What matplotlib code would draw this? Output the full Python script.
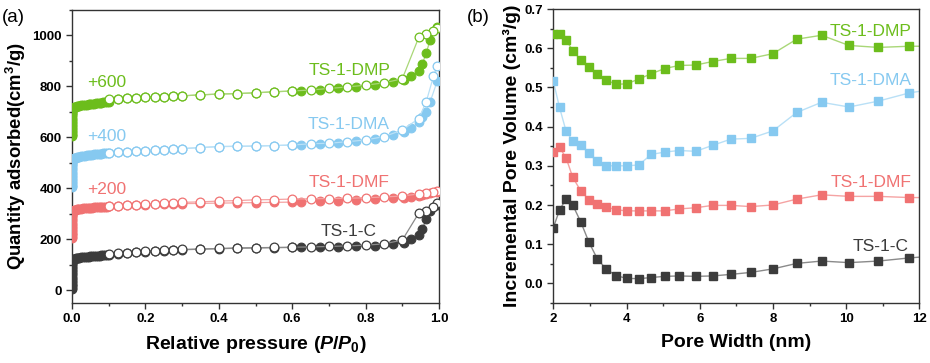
import matplotlib
matplotlib.use("Agg")
import matplotlib.pyplot as plt
from matplotlib.ticker import MultipleLocator

plt.rcParams['font.family'] = ['Liberation Sans', 'DejaVu Sans']
plt.rcParams['mathtext.fontset'] = 'custom'
plt.rcParams['mathtext.rm'] = 'Liberation Sans:bold'
plt.rcParams['mathtext.it'] = 'Liberation Sans:bold:italic'
plt.rcParams['mathtext.bf'] = 'Liberation Sans:bold'

# ---------------- Panel (a): N2 isotherms ----------------
p_ads = [1e-7, 2e-7, 3e-7, 5e-7, 7e-7, 1e-6, 1.5e-6, 2e-6, 3e-6, 5e-6, 7e-6, 1e-5,
         1.5e-5, 2e-5, 3e-5, 5e-5, 7e-5, 1e-4, 1.5e-4, 2e-4, 3e-4, 5e-4, 7e-4, 1e-3,
         2e-3, 3e-3, 5e-3, 7e-3, 0.01, 0.013, 0.016, 0.02, 0.025, 0.03, 0.035, 0.04,
         0.045, 0.05, 0.055, 0.06, 0.065, 0.07, 0.075, 0.08, 0.085, 0.09, 0.095, 0.1,
         0.125, 0.15, 0.175, 0.2, 0.225, 0.25, 0.275, 0.3, 0.35, 0.4, 0.45, 0.5,
         0.55, 0.6, 0.625, 0.675, 0.725, 0.775, 0.825,
         0.875, 0.905, 0.925, 0.945, 0.955, 0.965, 0.976, 0.995]
p_des = [0.995, 0.985, 0.965, 0.945, 0.9, 0.85, 0.8, 0.75, 0.7, 0.65, 0.6, 0.55,
         0.5, 0.45, 0.4, 0.35, 0.3, 0.275, 0.25, 0.225, 0.2, 0.175, 0.15, 0.125, 0.1]

c_ads = [5, 10, 15, 20, 26, 32, 38, 44, 50, 56, 62, 68, 74, 80, 86, 92, 98, 103,
         107, 110, 113, 115, 117, 118,
         119, 121, 123, 124, 125, 126, 127, 128, 129, 130, 131, 131, 132, 133, 134,
         134, 135, 136, 136, 137, 138, 138, 139, 140,
         144, 147, 150, 152, 154, 156, 157, 159, 161, 163, 165, 166, 167, 168,
         169, 170, 171, 173, 175,
         182, 187, 202, 216, 242, 278, 310, 333]
c_des = [343, 327, 313, 303, 197, 182, 177, 174, 172, 170, 169, 168, 167, 166, 164,
         162, 160, 158, 157, 155, 153, 150, 148, 145, 141]

dmf_ads = [205, 210, 215, 220, 226, 232, 238, 244, 250, 256, 262, 268, 274, 280, 286,
           291, 295, 298, 301, 303, 305, 307, 308, 309,
           311, 312, 314, 315, 316, 317, 318, 319, 320, 321, 322, 322, 323, 323, 324,
           325, 325, 326, 326, 327, 327, 328, 328, 329,
           331, 333, 335, 336, 337, 338, 339, 340, 341, 342, 343, 344, 345, 346,
           348, 350, 352, 355, 357,
           361, 364, 367, 370, 373, 376, 380, 386]
dmf_des = [391, 387, 383, 378, 370, 366, 363, 361, 360, 359, 358, 356, 355, 352, 350,
           347, 345, 343, 341, 339, 337, 335, 333, 331, 329]

dma_ads = [405, 410, 415, 420, 426, 432, 438, 444, 450, 456, 462, 468, 474, 480, 486,
           491, 496, 500, 504, 507, 509, 511, 512, 513,
           515, 517, 519, 520, 521, 522, 523, 525, 526, 527, 528, 529, 530, 531, 532,
           533, 534, 535, 535, 536, 537, 538, 538, 539,
           542, 544, 546, 548, 550, 552, 554, 556, 560, 564, 565, 566, 568, 570,
           572, 575, 579, 586, 595,
           609, 620, 636, 660, 680, 700, 740, 820]
dma_des = [879, 840, 739, 674, 629, 603, 590, 583, 577, 575, 570, 568, 566, 565, 564,
           560, 556, 554, 552, 550, 548, 546, 544, 542, 540]

dmp_ads = [605, 610, 615, 620, 626, 632, 638, 644, 650, 656, 662, 668, 674, 680, 686,
           691, 696, 700, 704, 707, 709, 711, 712, 713,
           715, 717, 719, 720, 721, 722, 723, 725, 726, 727, 728, 729, 730, 731, 732,
           733, 734, 735, 735, 736, 737, 738, 739, 740,
           751, 753, 755, 757, 758, 760, 761, 763, 767, 770, 772, 775, 779, 782,
           782, 785, 792, 798, 805,
           818, 826, 840, 860, 890, 930, 983, 1035]
dmp_des = [1030, 1018, 1005, 993, 830, 814, 805, 798, 792, 786, 782, 779, 775, 772,
           770, 767, 763, 761, 760, 758, 757, 755, 753, 751, 749]

# ---------------- Panel (b): pore size distribution ----------------
pore_w = [2.0, 2.17, 2.35, 2.53, 2.75, 2.97, 3.2, 3.44, 3.71, 4.0, 4.33, 4.68, 5.04,
          5.44, 5.89, 6.35, 6.85, 7.39, 8.0, 8.65, 9.33, 10.08, 10.88, 11.73, 12.7]
c_pv = [0.142, 0.187, 0.216, 0.200, 0.157, 0.106, 0.063, 0.037, 0.020, 0.013, 0.012,
        0.015, 0.018, 0.019, 0.018, 0.019, 0.023, 0.028, 0.037, 0.051, 0.057, 0.053,
        0.057, 0.065, 0.072]
dmf_pv = [0.336, 0.347, 0.320, 0.271, 0.236, 0.214, 0.202, 0.195, 0.188, 0.185, 0.185,
          0.185, 0.185, 0.190, 0.193, 0.199, 0.199, 0.196, 0.200, 0.215, 0.226, 0.222,
          0.222, 0.219, 0.219]
dma_pv = [0.516, 0.449, 0.388, 0.364, 0.354, 0.332, 0.311, 0.300, 0.300, 0.300, 0.302,
          0.329, 0.335, 0.339, 0.337, 0.352, 0.368, 0.370, 0.389, 0.436, 0.462, 0.450,
          0.465, 0.486, 0.500]
dmp_pv = [0.636, 0.636, 0.621, 0.594, 0.570, 0.551, 0.533, 0.519, 0.508, 0.509, 0.521,
          0.535, 0.548, 0.556, 0.557, 0.566, 0.574, 0.574, 0.586, 0.623, 0.633, 0.607,
          0.602, 0.605, 0.605]

names = ['TS-1-C', 'TS-1-DMF', 'TS-1-DMA', 'TS-1-DMP']
offsets = ['', '+200', '+400', '+600']
colors = ['#3c3c3c', '#f07272', '#86c9f0', '#6cbd1c']
line_colors = ['#8a8a8a', '#f5a3a3', '#b9e0f6', '#a9d777']

fig = plt.figure(figsize=(9.3, 3.63), dpi=100)
W, H = 930.0, 363.0
axa = fig.add_axes([72 / W, (H - 303) / H, (439 - 72) / W, (303 - 10) / H])
axb = fig.add_axes([553.3 / W, (H - 303) / H, (919.3 - 553.3) / W, (303 - 9) / H])

ads_list = [c_ads, dmf_ads, dma_ads, dmp_ads]
des_list = [c_des, dmf_des, dma_des, dmp_des]
for i in range(4):
    axa.plot(p_ads, ads_list[i], '-', color=line_colors[i], lw=0.9, zorder=2)
    axa.plot(p_ads, ads_list[i], 'o', ms=6.3, mfc=colors[i], mec=colors[i],
             mew=0.8, ls='none', zorder=3)
    axa.plot(p_des, des_list[i], '-', color=line_colors[i], lw=0.9, zorder=4)
    axa.plot(p_des, des_list[i], 'o', ms=6.3, mfc='white', mec=colors[i],
             mew=0.9, ls='none', zorder=5)

lab_y_a = [231, 422, 652, 863]
off_y_a = [None, 395, 602, 816]
for i in range(4):
    axa.text(0.755, lab_y_a[i], names[i], color=colors[i], fontsize=12.5,
             ha='center', va='center')
    if off_y_a[i] is not None:
        axa.text(0.095, off_y_a[i], offsets[i], color=colors[i], fontsize=12.5,
                 ha='center', va='center')

axa.set_xlim(0, 1.0)
axa.set_ylim(-50, 1100)
axa.xaxis.set_major_locator(MultipleLocator(0.2))
axa.xaxis.set_minor_locator(MultipleLocator(0.1))
axa.yaxis.set_major_locator(MultipleLocator(200))
axa.yaxis.set_minor_locator(MultipleLocator(100))
axa.set_xticks([0, 0.2, 0.4, 0.6, 0.8, 1.0])
axa.set_xticklabels(['0.0', '0.2', '0.4', '0.6', '0.8', '1.0'])
axa.set_xlabel(r'Relative pressure ($P$/$P_0$)', fontsize=14, fontweight='bold', labelpad=6)
axa.set_ylabel('Quantity adsorbed(cm$^3$/g)', fontsize=13.3, fontweight='bold', labelpad=3)

pv_list = [c_pv, dmf_pv, dma_pv, dmp_pv]
for i in range(4):
    axb.plot(pore_w, pv_list[i], '-', color=line_colors[i], lw=1.0, zorder=2)
    axb.plot(pore_w, pv_list[i], 's', ms=6.2, color=colors[i], ls='none', zorder=3)

lab_y_b = [0.093, 0.258, 0.517, 0.642]
lab_x_b = [11.72, 11.8, 11.8, 11.8]
for i in range(4):
    axb.text(lab_x_b[i], lab_y_b[i], names[i], color=colors[i], fontsize=12.5,
             ha='right', va='center')

axb.set_xlim(2, 12)
axb.set_ylim(-0.05, 0.7)
axb.xaxis.set_major_locator(MultipleLocator(2))
axb.xaxis.set_minor_locator(MultipleLocator(1))
axb.yaxis.set_major_locator(MultipleLocator(0.1))
axb.yaxis.set_minor_locator(MultipleLocator(0.05))
axb.set_yticks([0.0, 0.1, 0.2, 0.3, 0.4, 0.5, 0.6, 0.7])
axb.set_yticklabels(['0.0', '0.1', '0.2', '0.3', '0.4', '0.5', '0.6', '0.7'])
axb.set_xlabel('Pore Width (nm)', fontsize=14, fontweight='bold', labelpad=6)
axb.set_ylabel('Incremental Pore Volume (cm\u00b3/g)', fontsize=14, fontweight='bold', labelpad=2)

for ax in (axa, axb):
    for s in ax.spines.values():
        s.set_linewidth(1.0)
        s.set_color('#333333')
    ax.tick_params(which='both', direction='out', top=False, right=False,
                   labelsize=9.5, width=1.0, color='#333333')
    ax.tick_params(which='major', length=4)
    ax.tick_params(which='minor', length=2.5)
    for lab in ax.get_xticklabels() + ax.get_yticklabels():
        lab.set_fontweight('bold')

fig.text(2 / W, 1 - 17 / H, '(a)', fontsize=13.5, ha='left', va='center')
fig.text(467 / W, 1 - 17 / H, '(b)', fontsize=13.5, ha='left', va='center')

fig.savefig('out.png', dpi=100)
